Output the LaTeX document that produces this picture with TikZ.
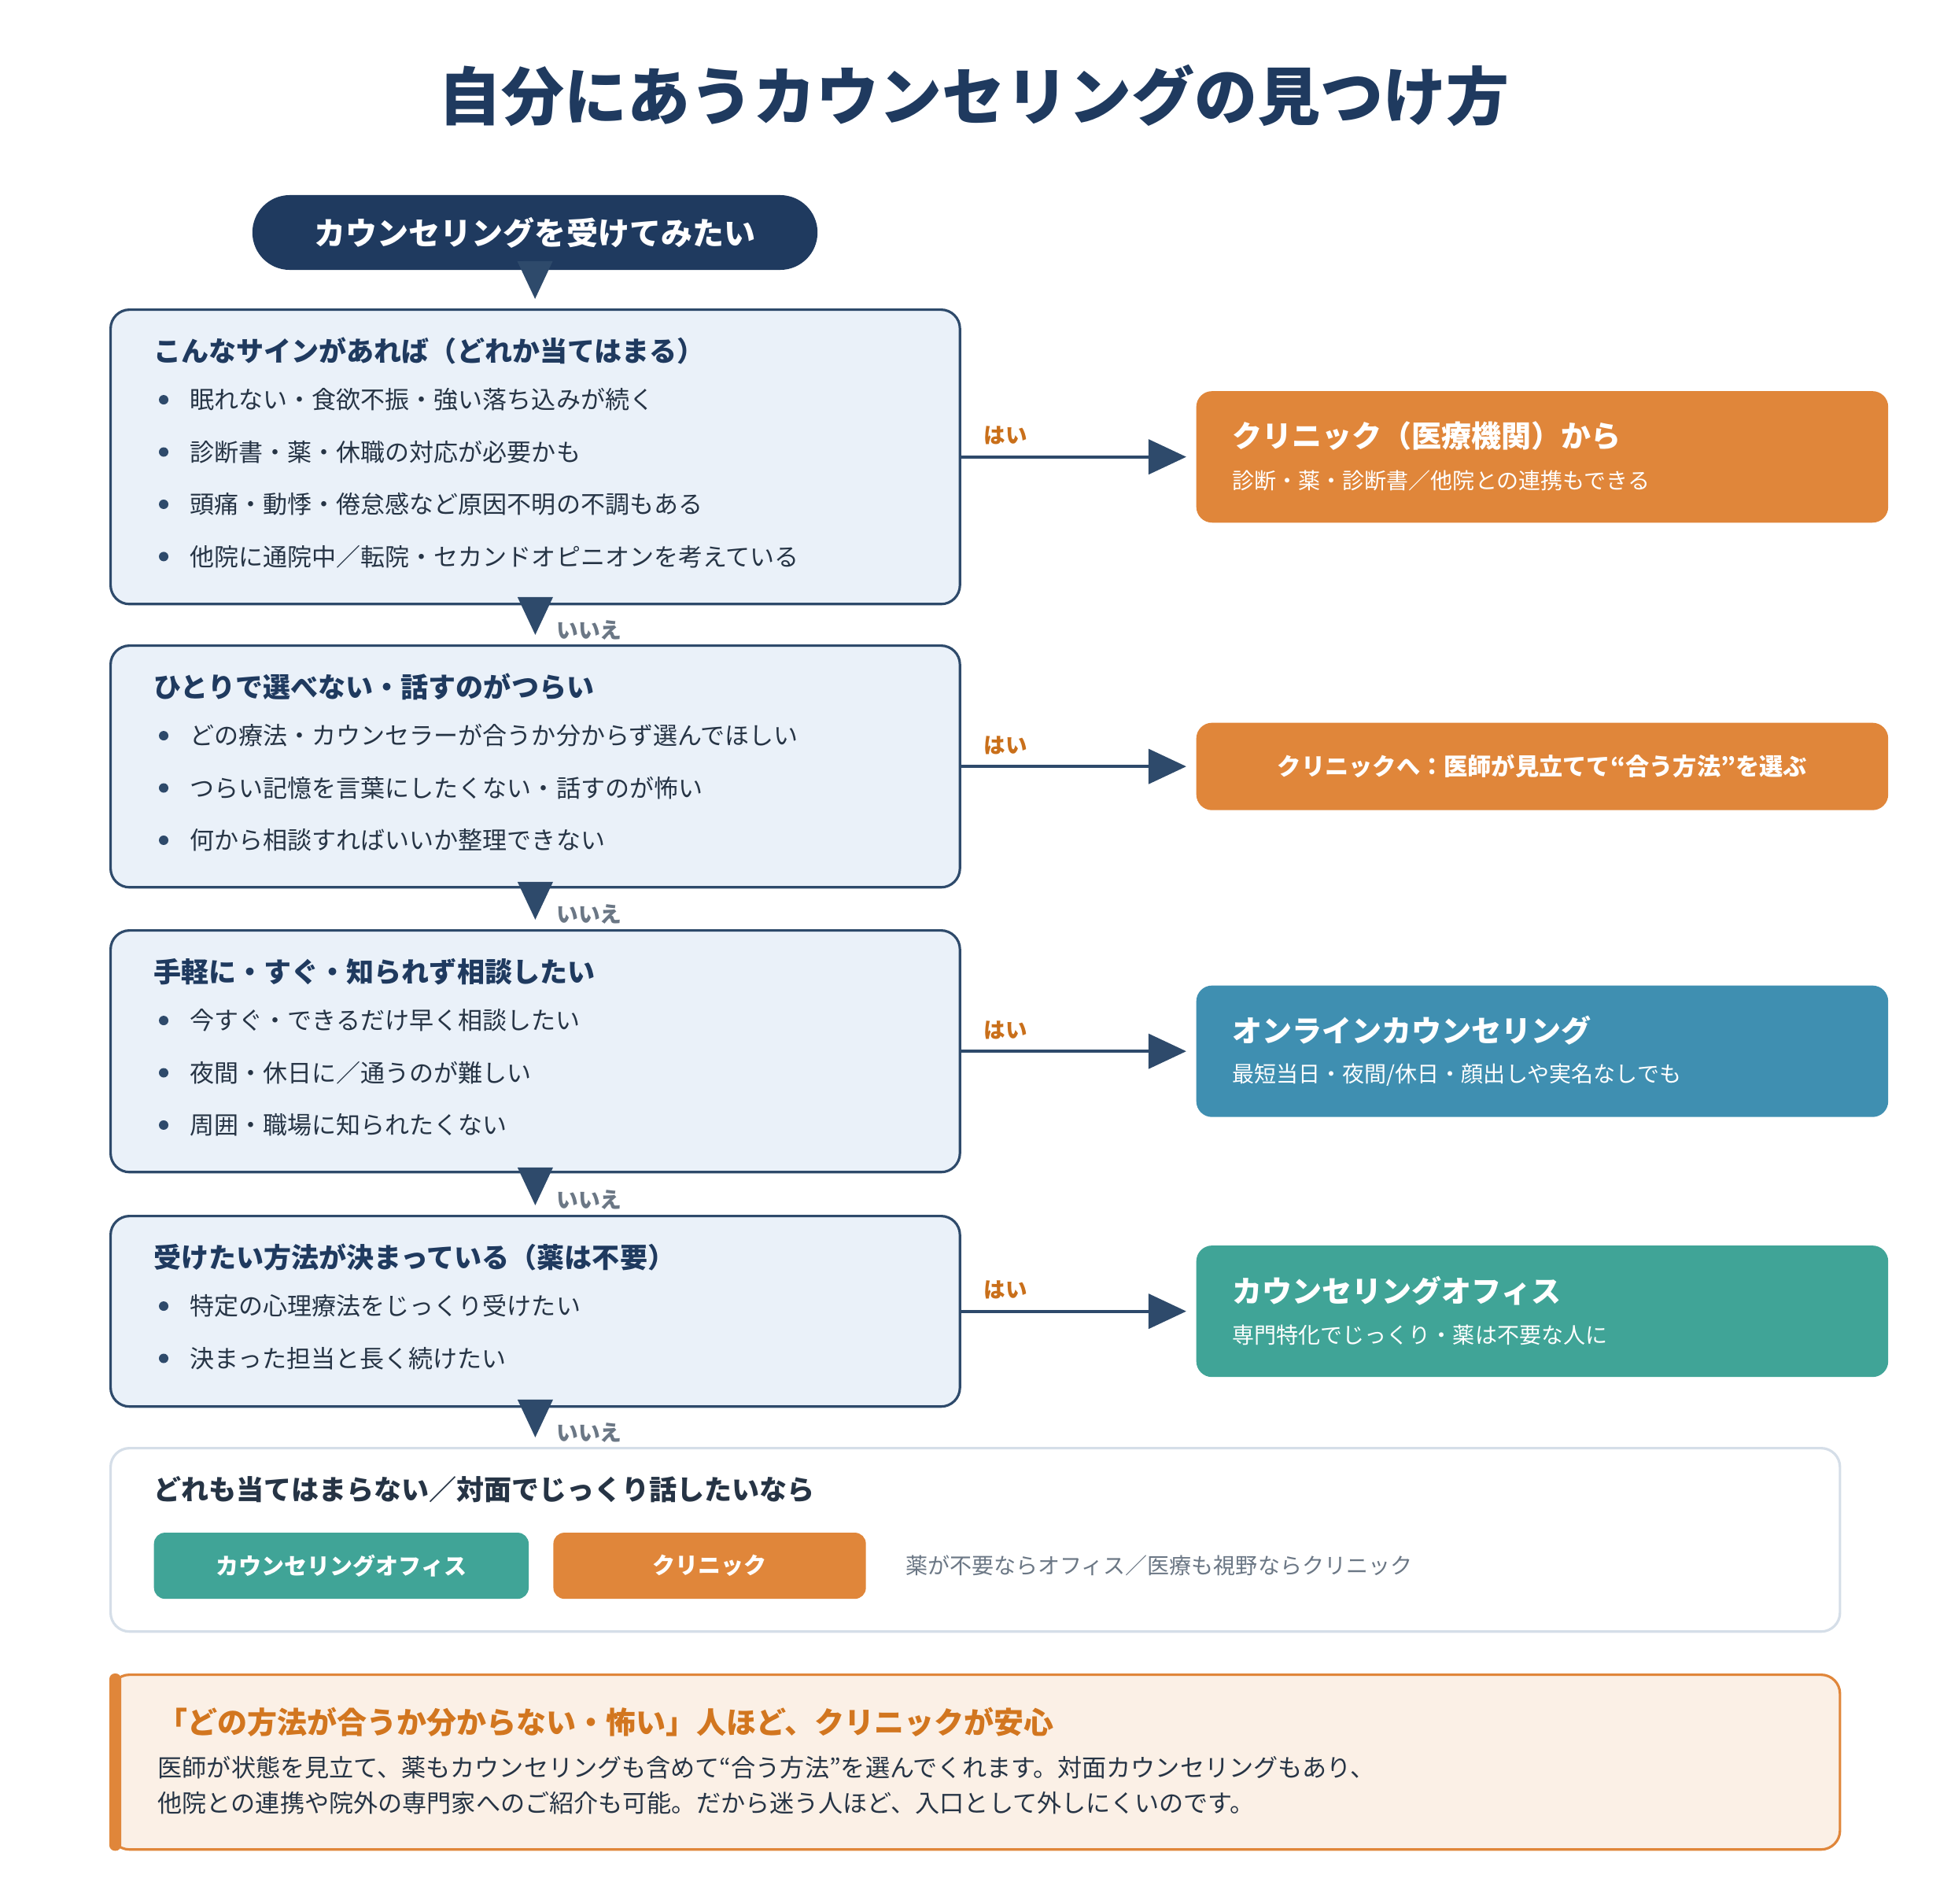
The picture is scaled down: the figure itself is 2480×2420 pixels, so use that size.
\documentclass[tikz,border=0pt]{standalone}
\usepackage{fontspec}
\setmainfont{Noto Sans CJK JP}
\usetikzlibrary{arrows.meta,positioning}
\definecolor{hdNavy}{HTML}{1F3A5F}
\definecolor{lineNavy}{HTML}{2E4A6B}
\definecolor{boxBlue}{HTML}{EAF1F9}
\definecolor{txtDark}{HTML}{263445}
\definecolor{clinicOrange}{HTML}{E0863A}
\definecolor{onlineBlue}{HTML}{3F8FB1}
\definecolor{officeTeal}{HTML}{40A497}
\definecolor{noteCream}{HTML}{FBF0E6}
\definecolor{noteOrange}{HTML}{D2761F}
\definecolor{yesOrange}{HTML}{C96F1A}
\definecolor{noGray}{HTML}{6B7785}
\definecolor{paleBorder}{HTML}{D5DEE8}

\begin{document}
\begin{tikzpicture}[
    x=0.01cm, y=-0.01cm,
    startpill/.style={fill=hdNavy, text=white, rounded corners=0.475cm, minimum width=7.18cm, minimum height=0.95cm, inner sep=0, font=\bfseries\fontsize{11.38pt}{14pt}\selectfont},
    flowbox/.style={draw=lineNavy, line width=0.9pt, fill=boxBlue, rounded corners=0.24cm, minimum width=10.79cm, inner sep=0, anchor=north west},
    outbox/.style={rounded corners=0.2cm, minimum width=8.79cm, minimum height=1.67cm, inner sep=0},
    signhead/.style={anchor=west, inner sep=0, text=hdNavy, font=\bfseries\fontsize{9.96pt}{12pt}\selectfont},
    signitem/.style={anchor=west, inner sep=0, text=txtDark, font=\fontsize{8.82pt}{11pt}\selectfont},
    outtitle/.style={anchor=west, inner sep=0, text=white, font=\bfseries\fontsize{10.81pt}{13pt}\selectfont},
    outsub/.style={anchor=west, inner sep=0, text=white, font=\fontsize{7.97pt}{10pt}\selectfont},
    pick/.style={rounded corners=0.14cm, minimum height=0.84cm, inner sep=0, text=white, font=\bfseries\fontsize{8.25pt}{10pt}\selectfont},
    down/.style={-{Triangle[length=0.48cm, width=0.44cm]}, draw=lineNavy, fill=lineNavy, line width=1.14pt, shorten >=0.12cm},
    yesarrow/.style={-{Triangle[length=0.48cm, width=0.44cm]}, draw=lineNavy, fill=lineNavy, line width=1.14pt, shorten >=0.12cm},
    nolabel/.style={pos=0.64, anchor=west, xshift=0.25cm, inner sep=0, text=noGray, font=\bfseries\fontsize{7.9pt}{10pt}\selectfont},
    yeslabel/.style={pos=0.19, yshift=0.27cm, inner sep=0, text=yesOrange, font=\bfseries\fontsize{7.82pt}{10pt}\selectfont}
  ]
    \fill[white] (0,0) rectangle (2480,2420);
    \useasboundingbox (0,0) rectangle (2480,2420);

    % title and start
    \node[text=hdNavy, font=\bfseries\fontsize{22.76pt}{27pt}\selectfont] (title) at (1238,122) {自分にあうカウンセリングの見つけ方};
    \node[startpill] (start) at (680,295.5) {カウンセリングを受けてみたい};

    % question boxes
    \node[flowbox, minimum height=3.74cm] (b1) at (139,392) {};
    \node[flowbox, minimum height=3.07cm] (b2) at (139,819) {};
    \node[flowbox, minimum height=3.07cm] (b3) at (139,1181) {};
    \node[flowbox, minimum height=2.42cm] (b4) at (139,1544) {};
    \node[draw=paleBorder, line width=0.9pt, fill=white, rounded corners=0.24cm, minimum width=21.97cm, minimum height=2.33cm, inner sep=0, anchor=north west] (b5) at (139,1839) {};
    \node[draw=clinicOrange, line width=0.9pt, fill=noteCream, rounded corners=0.24cm, minimum width=21.97cm, minimum height=2.22cm, inner sep=0, anchor=north west] (note) at (139,2127) {};

    % box 1
    \node[signhead] (b1h) at ([xshift=0.56cm, yshift=-0.54cm]b1.north west) {こんなサインがあれば（どれか当てはまる）};
    \node[signitem] (b1i1) at ([xshift=1.02cm, yshift=-1.16cm]b1.north west) {眠れない・食欲不振・強い落ち込みが続く};
    \node[signitem] (b1i2) at ([xshift=1.02cm, yshift=-1.824cm]b1.north west) {診断書・薬・休職の対応が必要かも};
    \node[signitem] (b1i3) at ([xshift=1.02cm, yshift=-2.488cm]b1.north west) {頭痛・動悸・倦怠感など原因不明の不調もある};
    \node[signitem] (b1i4) at ([xshift=1.02cm, yshift=-3.152cm]b1.north west) {他院に通院中／転院・セカンドオピニオンを考えている};
    \fill[lineNavy] ([xshift=0.69cm, yshift=-1.16cm]b1.north west) circle[radius=0.06cm];
    \fill[lineNavy] ([xshift=0.69cm, yshift=-1.824cm]b1.north west) circle[radius=0.06cm];
    \fill[lineNavy] ([xshift=0.69cm, yshift=-2.488cm]b1.north west) circle[radius=0.06cm];
    \fill[lineNavy] ([xshift=0.69cm, yshift=-3.152cm]b1.north west) circle[radius=0.06cm];

    % box 2
    \node[signhead] (b2h) at ([xshift=0.56cm, yshift=-0.54cm]b2.north west) {ひとりで選べない・話すのがつらい};
    \node[signitem] (b2i1) at ([xshift=1.02cm, yshift=-1.16cm]b2.north west) {どの療法・カウンセラーが合うか分からず選んでほしい};
    \node[signitem] (b2i2) at ([xshift=1.02cm, yshift=-1.824cm]b2.north west) {つらい記憶を言葉にしたくない・話すのが怖い};
    \node[signitem] (b2i3) at ([xshift=1.02cm, yshift=-2.488cm]b2.north west) {何から相談すればいいか整理できない};
    \fill[lineNavy] ([xshift=0.69cm, yshift=-1.16cm]b2.north west) circle[radius=0.06cm];
    \fill[lineNavy] ([xshift=0.69cm, yshift=-1.824cm]b2.north west) circle[radius=0.06cm];
    \fill[lineNavy] ([xshift=0.69cm, yshift=-2.488cm]b2.north west) circle[radius=0.06cm];

    % box 3
    \node[signhead] (b3h) at ([xshift=0.56cm, yshift=-0.54cm]b3.north west) {手軽に・すぐ・知られず相談したい};
    \node[signitem] (b3i1) at ([xshift=1.02cm, yshift=-1.16cm]b3.north west) {今すぐ・できるだけ早く相談したい};
    \node[signitem] (b3i2) at ([xshift=1.02cm, yshift=-1.824cm]b3.north west) {夜間・休日に／通うのが難しい};
    \node[signitem] (b3i3) at ([xshift=1.02cm, yshift=-2.488cm]b3.north west) {周囲・職場に知られたくない};
    \fill[lineNavy] ([xshift=0.69cm, yshift=-1.16cm]b3.north west) circle[radius=0.06cm];
    \fill[lineNavy] ([xshift=0.69cm, yshift=-1.824cm]b3.north west) circle[radius=0.06cm];
    \fill[lineNavy] ([xshift=0.69cm, yshift=-2.488cm]b3.north west) circle[radius=0.06cm];

    % box 4
    \node[signhead] (b4h) at ([xshift=0.56cm, yshift=-0.54cm]b4.north west) {受けたい方法が決まっている（薬は不要）};
    \node[signitem] (b4i1) at ([xshift=1.02cm, yshift=-1.16cm]b4.north west) {特定の心理療法をじっくり受けたい};
    \node[signitem] (b4i2) at ([xshift=1.02cm, yshift=-1.824cm]b4.north west) {決まった担当と長く続けたい};
    \fill[lineNavy] ([xshift=0.69cm, yshift=-1.16cm]b4.north west) circle[radius=0.06cm];
    \fill[lineNavy] ([xshift=0.69cm, yshift=-1.824cm]b4.north west) circle[radius=0.06cm];

    % outcomes
    \node[outbox, fill=clinicOrange, right=2.98cm of b1] (r1) {};
    \node[outbox, fill=clinicOrange, minimum height=1.11cm, right=2.98cm of b2, text=white, font=\bfseries\fontsize{8.6pt}{10pt}\selectfont] (r2) {クリニックへ：医師が見立てて“合う方法”を選ぶ};
    \node[outbox, fill=onlineBlue, right=2.98cm of b3] (r3) {};
    \node[outbox, fill=officeTeal, right=2.98cm of b4] (r4) {};
    \node[outtitle] (r1t) at ([xshift=0.46cm, yshift=-0.58cm]r1.north west) {クリニック（医療機関）から};
    \node[outsub] (r1s) at ([xshift=0.46cm, yshift=-1.14cm]r1.north west) {診断・薬・診断書／他院との連携もできる};
    \node[outtitle] (r3t) at ([xshift=0.46cm, yshift=-0.58cm]r3.north west) {オンラインカウンセリング};
    \node[outsub] (r3s) at ([xshift=0.46cm, yshift=-1.14cm]r3.north west) {最短当日・夜間/休日・顔出しや実名なしでも};
    \node[outtitle] (r4t) at ([xshift=0.46cm, yshift=-0.58cm]r4.north west) {カウンセリングオフィス};
    \node[outsub] (r4s) at ([xshift=0.46cm, yshift=-1.14cm]r4.north west) {専門特化でじっくり・薬は不要な人に};

    % none of the above
    \node[signhead, text=txtDark] (b5h) at ([xshift=0.56cm, yshift=-0.54cm]b5.north west) {どれも当てはまらない／対面でじっくり話したいなら};
    \node[pick, fill=officeTeal, minimum width=4.76cm, anchor=west] (pickOffice) at ([xshift=0.56cm, yshift=-1.51cm]b5.north west) {カウンセリングオフィス};
    \node[pick, fill=clinicOrange, minimum width=3.97cm, right=0.3cm of pickOffice] (pickClinic) {クリニック};
    \node[inner sep=0, text=noGray, font=\fontsize{7.97pt}{10pt}\selectfont, right=0.49cm of pickClinic] (hint) {薬が不要ならオフィス／医療も視野ならクリニック};

    % note
    \fill[clinicOrange, rounded corners=0.07cm] (note.north west) rectangle ([xshift=0.15cm]note.south west);
    \node[anchor=west, inner sep=0, text=noteOrange, font=\bfseries\fontsize{10.81pt}{13pt}\selectfont] (noteh) at ([xshift=0.61cm, yshift=-0.62cm]note.north west) {「どの方法が合うか分からない・怖い」人ほど、クリニックが安心};
    \node[anchor=west, inner sep=0, text=txtDark, font=\fontsize{8.85pt}{11pt}\selectfont] (notel1) at ([xshift=0.61cm, yshift=-1.2cm]note.north west) {医師が状態を見立て、薬もカウンセリングも含めて“合う方法”を選んでくれます。対面カウンセリングもあり、};
    \node[anchor=west, inner sep=0, text=txtDark, font=\fontsize{8.85pt}{11pt}\selectfont] (notel2) at ([xshift=0.61cm, yshift=-1.65cm]note.north west) {他院との連携や院外の専門家へのご紹介も可能。だから迷う人ほど、入口として外しにくいのです。};

    % connectors
    \draw[down] (start) -- (b1);
    \draw[down] (b1) -- node[nolabel] {いいえ} (b2);
    \draw[down] (b2) -- node[nolabel] {いいえ} (b3);
    \draw[down] (b3) -- node[nolabel] {いいえ} (b4);
    \coordinate (b5in) at (b4.south |- b5.north);
    \draw[down] (b4) -- node[nolabel] {いいえ} (b5in);
    \draw[yesarrow] (b1) -- node[yeslabel] {はい} (r1);
    \draw[yesarrow] (b2) -- node[yeslabel] {はい} (r2);
    \draw[yesarrow] (b3) -- node[yeslabel] {はい} (r3);
    \draw[yesarrow] (b4) -- node[yeslabel] {はい} (r4);
  \end{tikzpicture}
\end{document}
